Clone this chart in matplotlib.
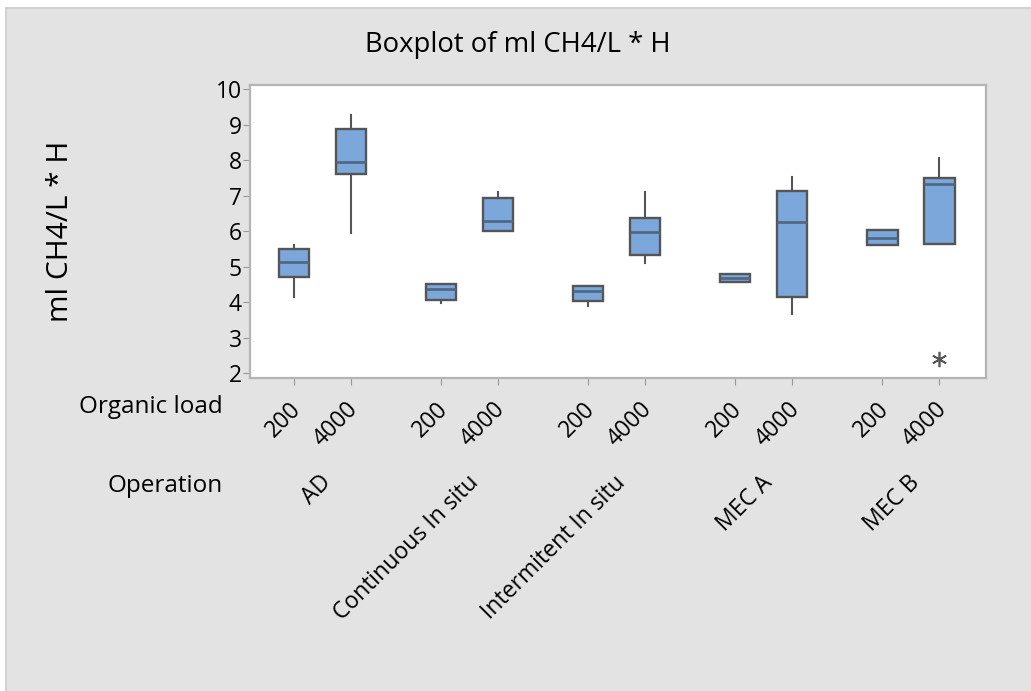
import matplotlib.pyplot as plt
from matplotlib.patches import Rectangle

plt.rcParams['font.family'] = ['Open Sans', 'DejaVu Sans']

operations = ["AD", "Continuous In situ", "Intermitent In situ", "MEC A", "MEC B"]
loads = ["200", "4000"]

# box summaries, one entry per operation/load pair (200, 4000, 200, 4000, ...)
q1 = [4.72, 7.61, 4.06, 6.01, 4.03, 5.33, 4.56, 4.16, 5.61, 5.63]
med = [5.14, 7.96, 4.37, 6.29, 4.31, 5.98, 4.67, 6.25, 5.82, 7.32]
q3 = [5.49, 8.87, 4.51, 6.95, 4.45, 6.38, 4.79, 7.14, 6.03, 7.51]
whislo = [4.14, 5.94, 3.97, 6.01, 3.90, 5.12, 4.56, 3.67, 5.61, 5.63]
whishi = [5.61, 9.28, 4.51, 7.12, 4.45, 7.12, 4.79, 7.52, 6.03, 8.07]
outliers = [[], [], [], [], [], [], [], [], [], [2.41]]

group_gap = 2.58
positions = []
for g in range(len(operations)):
    for k in range(len(loads)):
        positions.append(g * group_gap + k)

stats = []
for i in range(len(positions)):
    stats.append(dict(q1=q1[i], med=med[i], q3=q3[i],
                      whislo=whislo[i], whishi=whishi[i], fliers=outliers[i]))

bg = '#e3e3e3'
W, H = 1031, 691
fig = plt.figure(figsize=(W / 100, H / 100), dpi=100, facecolor=bg)
# white margin and frame around the graph region
fig.patches.append(Rectangle((0, 0.988), 1, 0.012, transform=fig.transFigure,
                             facecolor='white', edgecolor='none'))
fig.patches.append(Rectangle((0, 0), 0.006, 1, transform=fig.transFigure,
                             facecolor='white', edgecolor='none'))
fig.patches.append(Rectangle((0.006, -0.01), 1.0, 0.998, transform=fig.transFigure,
                             facecolor='none', edgecolor='#d2d2d2', linewidth=1.5))

ax = fig.add_axes([0.2425, 0.4534, 0.7135, 0.4236])
ax.set_facecolor('white')

edge = '#555555'
ax.bxp(stats, positions=positions, widths=0.53, patch_artist=True,
       showcaps=False,
       boxprops=dict(facecolor='#7ba7db', edgecolor=edge, linewidth=1.7),
       medianprops=dict(color='#4e6680', linewidth=1.9),
       whiskerprops=dict(color=edge, linewidth=1.5),
       flierprops=dict(marker=(6, 2, 0), markersize=11, markeredgecolor='#555555',
                       markeredgewidth=1.2, linestyle='none'))

ax.set_xlim(-0.77, 12.13)
ax.set_ylim(1.876, 10.12)
ax.set_yticks(range(2, 11))
ax.tick_params(axis='y', labelsize=16.5, length=5, color='#999999', pad=1)
ax.set_xticks(positions)
ax.set_xticklabels([])
ax.tick_params(axis='x', length=5, color='#999999')
for s in ax.spines.values():
    s.set_color('#b4b4b4')
    s.set_linewidth(1.6)

# organic load labels under each tick
for i, p in enumerate(positions):
    ax.annotate(loads[i % 2], xy=(p, 0), xycoords=('data', 'axes fraction'),
                xytext=(2.5, -20), textcoords='offset points', rotation=45,
                rotation_mode='anchor', ha='right', va='center', fontsize=16.5)

# operation labels centred under each pair
for g, name in enumerate(operations):
    c = g * group_gap + 0.5
    ax.annotate(name, xy=(c, 0), xycoords=('data', 'axes fraction'),
                xytext=(4, -73), textcoords='offset points', rotation=45,
                rotation_mode='anchor', ha='right', va='center', fontsize=16.5)

fig.text(223 / W, 1 - 413 / H, "Organic load", ha='right', va='baseline', fontsize=17.5)
fig.text(223 / W, 1 - 492 / H, "Operation", ha='right', va='baseline', fontsize=17.5)
fig.text(518 / W, 1 - 52 / H, "Boxplot of ml CH4/L * H", ha='center', va='baseline',
         fontsize=19.8)
fig.text(60 / W, 1 - 231 / H, "ml CH4/L * H", rotation=90, ha='center', va='center',
         fontsize=21.5)

fig.savefig("out.png", dpi=100, facecolor=bg)
